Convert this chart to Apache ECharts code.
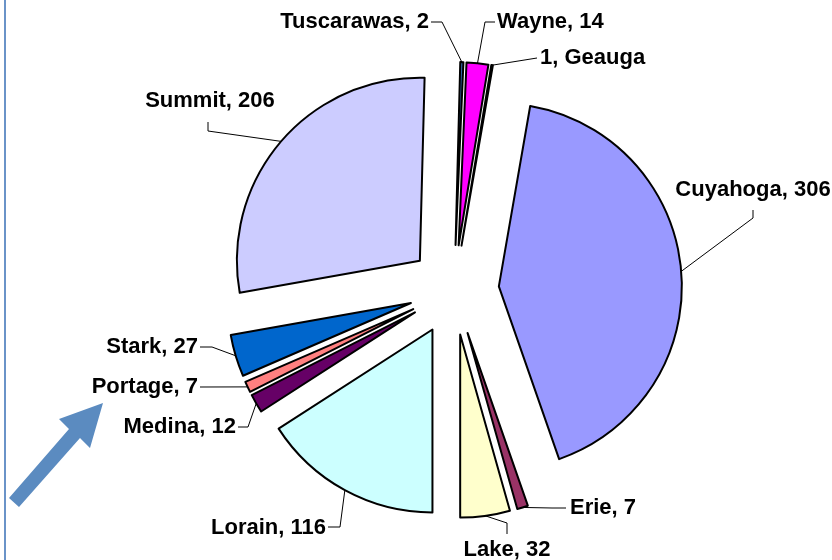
<!DOCTYPE html>
<html>
<head>
<meta charset="utf-8">
<script src="https://cdn.jsdelivr.net/npm/echarts@6/dist/echarts.min.js"></script>
<style>
html,body{margin:0;padding:0;background:#fff;}
#chart{width:832px;height:560px;}
</style>
</head>
<body>
<div id="chart"></div>
<script>
// Data (clockwise order, starting with Cuyahoga)
const categories = ['Cuyahoga', 'Erie', 'Lake', 'Lorain', 'Medina', 'Portage', 'Stark', 'Summit', 'Tuscarawas', 'Wayne', 'Geauga'];
const values = [306, 7, 32, 116, 12, 7, 27, 206, 2, 14, 1];
const colors = ['#9999FF', '#993366', '#FFFFCC', '#CCFFFF', '#660066', '#FF8080', '#0066CC', '#CCCCFF', '#3366AA', '#FF00FF', '#FFFFFF'];

// Label placement (layout only): text anchor, alignment, leader elbow
const labelPlacement = {
  Cuyahoga:   {x: 753, y: 190, align: 'center', anchor: [753, 210], elbow: [753, 218]},
  Erie:       {x: 570, y: 508, align: 'left',   anchor: [566, 508], elbow: [552, 508]},
  Lake:       {x: 507, y: 550, align: 'center', anchor: [507, 534], elbow: [507, 523]},
  Lorain:     {x: 326, y: 528, align: 'right',  anchor: [328, 527], elbow: [340, 527]},
  Medina:     {x: 236, y: 427, align: 'right',  anchor: [238, 427], elbow: [248, 427]},
  Portage:    {x: 198, y: 387, align: 'right',  anchor: [200, 387], elbow: null},
  Stark:      {x: 198, y: 347, align: 'right',  anchor: [200, 347], elbow: [212, 347]},
  Summit:     {x: 210, y: 101, align: 'center', anchor: [208, 122], elbow: [208, 131]},
  Tuscarawas: {x: 429, y: 22,  align: 'right',  anchor: [431, 22],  elbow: [442, 22]},
  Wayne:      {x: 497, y: 22,  align: 'left',   anchor: [495, 22],  elbow: [485, 22]},
  Geauga:     {x: 540, y: 58,  align: 'left',   anchor: [537, 58],  elbow: null}
};

const total = values.reduce((a, b) => a + b, 0);
const firstStartDeg = 180 - (values[0] + values[1] + values[2]) / total * 360;
const CENTER = [454, 290];
const RADIUS = 183;
const EXPLODE = 45;

const chart = echarts.init(document.getElementById('chart'), null, {renderer: 'canvas'});

const sliceData = categories.map((name, i) => ({
  name: name,
  value: values[i],
  selected: true,
  itemStyle: {color: colors[i]}
}));

const labelData = categories.map((name, i) => ({
  name: name,
  value: values[i],
  label: name === 'Geauga' ? {formatter: '{c}, {b}'} : undefined
}));

chart.setOption({
  animation: false,
  backgroundColor: '#ffffff',
  graphic: [
    {type: 'line', shape: {x1: 5, y1: 0, x2: 5, y2: 560}, style: {stroke: '#6A93C8', lineWidth: 2}},
    {type: 'polygon', shape: {points: [[9, 498], [69, 429], [59, 419], [103, 403], [90, 448], [80, 438], [19, 507]]}, style: {fill: '#5B8BC0'}}
  ],
  series: [{
    // exploded slices
    type: 'pie',
    z: 3,
    center: CENTER,
    radius: RADIUS,
    startAngle: 90 - firstStartDeg,
    clockwise: true,
    selectedMode: 'multiple',
    selectedOffset: EXPLODE,
    data: sliceData,
    itemStyle: {borderColor: '#000', borderWidth: 2},
    select: {itemStyle: {borderColor: '#000', borderWidth: 2}},
    emphasis: {disabled: true},
    label: {show: false},
    labelLine: {show: false}
  }, {
    // label carrier: same angles, radius reaching the exploded arcs
    type: 'pie',
    z: 2,
    silent: true,
    center: CENTER,
    radius: RADIUS + EXPLODE,
    startAngle: 90 - firstStartDeg,
    clockwise: true,
    data: labelData,
    itemStyle: {color: 'rgba(0,0,0,0)', borderWidth: 0},
    emphasis: {disabled: true},
    avoidLabelOverlap: false,
    label: {
      show: true,
      formatter: '{b}, {c}',
      color: '#000',
      fontFamily: 'Liberation Sans, Arial, sans-serif',
      fontWeight: 'bold',
      fontSize: 22
    },
    labelLine: {show: true, length: 12, length2: 12, lineStyle: {color: '#000', width: 1}},
    labelLayout: function (params) {
      const p = labelPlacement[categories[params.dataIndex]];
      const pts = params.labelLinePoints;
      const edge = pts ? pts[0] : p.anchor;
      return {
        x: p.x, y: p.y, align: p.align, verticalAlign: 'middle',
        labelLinePoints: [edge, p.elbow || p.anchor, p.anchor]
      };
    }
  }]
});
</script>
</body>
</html>
